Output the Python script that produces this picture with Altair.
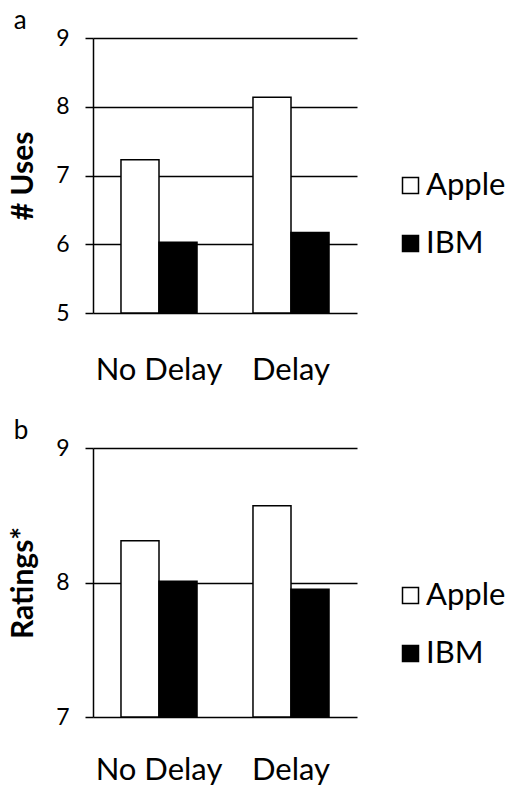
import altair as alt
import pandas as pd

conditions = ["No Delay", "Delay"]
brands = ["Apple", "IBM"]
uses_apple = [7.23, 8.14]
uses_ibm = [6.03, 6.17]
ratings_apple = [8.31, 8.57]
ratings_ibm = [8.01, 7.95]

FONT = "Lato"


def make_df(apple, ibm):
    rows = []
    for i, c in enumerate(conditions):
        rows.append({"cond": c, "brand": "Apple", "value": apple[i]})
        rows.append({"cond": c, "brand": "IBM", "value": ibm[i]})
    return pd.DataFrame(rows)


def panel(df, letter, ytitle, domain, ticks, h, xpad):
    return alt.Chart(df).mark_bar(stroke="black", strokeWidth=1.5).encode(
        x=alt.X("cond:N", sort=conditions,
                scale=alt.Scale(paddingInner=0.424, paddingOuter=0.212),
                axis=alt.Axis(title=None, labelAngle=0, domain=False, ticks=False,
                              labelPadding=xpad, labelFontSize=31, labelColor="black",
                              labelFont=FONT)),
        xOffset=alt.XOffset("brand:N", sort=brands),
        y=alt.Y("value:Q",
                scale=alt.Scale(domain=domain, nice=False, zero=False),
                axis=alt.Axis(values=ticks, tickCount=len(ticks), format=".0f",
                              title=ytitle, grid=True,
                              gridColor="black", gridWidth=1.5, gridOpacity=1,
                              domainColor="black", domainWidth=1.5, tickColor="black",
                              tickWidth=1.5, tickSize=8, labelPadding=16, labelFontSize=23,
                              labelColor="black", labelFont=FONT,
                              titleFontSize=30, titleFont=FONT, titleFontWeight="bold",
                              titleColor="black", titlePadding=17)),
        y2=alt.datum(domain[0]),
        color=alt.Color("brand:N", scale=alt.Scale(domain=brands, range=["white", "black"]),
                        legend=alt.Legend(title=None, orient="none", legendX=302, legendY=132,
                                          symbolType="square", symbolSize=256,
                                          symbolStrokeColor="black", symbolStrokeWidth=1.5,
                                          labelFontSize=31, labelFont=FONT, labelColor="black",
                                          labelOffset=0, rowPadding=26, padding=0)),
    ).properties(
        width=264, height=h,
        title=alt.TitleParams(letter, anchor="start", frame="bounds", fontSize=26,
                              fontWeight="normal", font=FONT, color="black", dx=5, offset=-7),
    )


a = panel(make_df(uses_apple, uses_ibm), "a", "# Uses", [5, 9], [5, 6, 7, 8, 9], 275, 42)
b = panel(make_df(ratings_apple, ratings_ibm), "b", "Ratings*", [7, 9], [7, 8, 9], 269, 38)

chart = (alt.vconcat(a, b, spacing=33)
         .resolve_scale(color="independent")
         .resolve_legend(color="independent")
         .configure(padding=0)
         .configure_view(stroke=None))

chart.save("out.html", embed_options={"renderer": "svg", "actions": False})
